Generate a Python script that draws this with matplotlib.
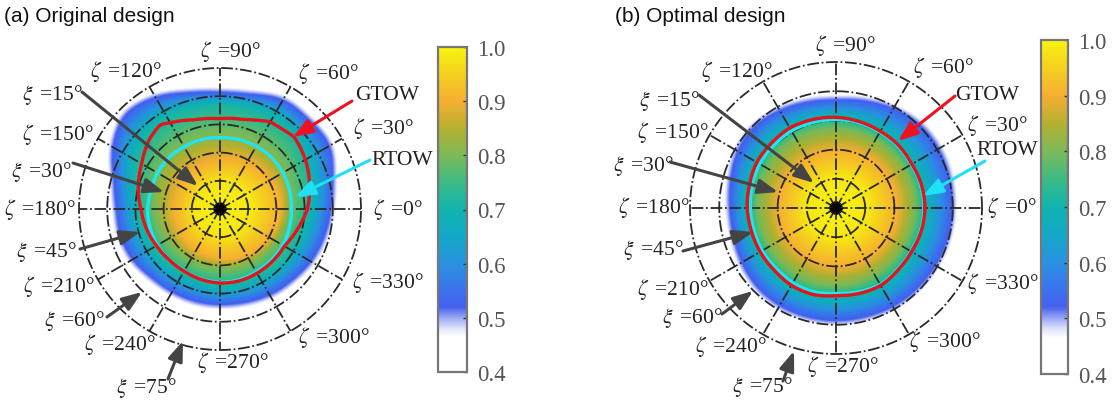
import matplotlib
matplotlib.use("Agg")
import matplotlib.pyplot as plt
import numpy as np
from matplotlib.colors import LinearSegmentedColormap

plt.rcParams['mathtext.fontset'] = 'stix'
plt.rcParams['font.family'] = 'Liberation Serif'

W, H = 1118, 402

# angle of every sample below (zeta, deg), radii are xi (deg)
zeta = np.arange(0, 360, 15)

# (a) original design
a_r09 = [33, 33, 32, 30, 29, 28, 27, 26, 26, 26, 25, 25, 25, 25, 25, 26, 26, 26, 27, 28, 29, 30, 31, 32]
a_r08 = [38, 39, 41, 42, 42, 42, 41, 41, 41, 40, 38, 36, 35, 34, 33, 32, 32, 32, 32, 33, 33, 34, 35, 36]
a_r07 = [49, 51, 54, 58, 58, 57, 56, 57, 58, 58, 54, 47, 44, 43, 42, 42, 41, 41, 42, 42, 43, 44, 45, 46]
a_edge = [62, 65, 71, 70, 70.6, 66, 65, 67, 72, 75, 69, 61, 58, 58, 57, 54.5, 54, 54, 54, 54.5, 56, 57, 59, 60.5]
a_gtow_zeta = [0, 15, 30, 44, 52, 60, 67.5, 75, 90, 105, 112.5, 120, 125, 135, 150, 165, 180, 195, 210, 225, 240, 255,
               270, 285, 300, 315, 330, 345]
a_gtow = [46.5, 49.4, 52.5, 55, 53.8, 53.5, 51, 49.2, 48, 49.2, 51, 53, 55, 52.8, 48, 45, 42, 40.5, 39, 38.2, 38.2,
          38.8, 39.4, 39.6, 39.4, 39.4, 39.5, 42.5]
a_rtow = [38, 38.3, 38.6, 38.8, 38.6, 38.3, 38, 38.2, 38.3, 38.5, 38.4, 38, 38.5, 38.5, 38.5, 38, 38, 38.5, 39, 39, 38.5, 38.5, 38.5, 38.2]

# (b) optimal design
b_r09 = [32, 32, 32, 32, 31, 31, 30, 30, 30, 30, 30, 30, 30, 30, 30, 30, 30, 30, 30, 31, 31, 31, 32, 32]
b_r08 = [41, 41, 41, 41, 41, 41, 41, 41, 42, 41, 41, 41, 40, 40, 40, 40, 40, 40, 40, 40, 40, 40, 40, 40]
b_r07 = [46.2, 46, 45.5, 46, 46, 46.5, 47, 47.5, 48, 47.5, 47.5, 46.5, 46, 45.5, 45.5, 45.5, 46.4, 46.5, 45.5, 46, 46.5, 45.5, 45.3, 45.9]
b_edge = [62.8, 63.5, 64, 64, 62, 60, 58.5, 59.5, 61, 62.5, 61.5, 59, 57.5, 57.5, 59, 60.5, 61, 61, 61, 61, 61.5, 61.8, 62, 62.5]
b_gtow = [45.7, 45.5, 45, 45.5, 45.5, 46, 46.6, 47, 47.5, 47, 47, 46, 45.6, 45, 45, 45, 45.9, 46, 45, 45.5, 46, 45, 44.8, 45.4]
b_rtow = [45.2, 45, 44.6, 45, 45, 45.4, 45.5, 45.5, 45.8, 45.3, 45.3, 44.5, 44, 43.6, 43.8, 43.6, 44.3, 44.6, 43.8, 44.6, 45.4, 44.6, 44.4, 45]

xi_rings = [15, 30, 45, 60, 75]
zeta_spokes = np.arange(0, 360, 30)

cbar_ticks = [0.4, 0.5, 0.6, 0.7, 0.8, 0.9, 1.0]
cmap_values = [0.4, 0.465, 0.48, 0.5, 0.52, 0.55, 0.6, 0.65, 0.7, 0.75, 0.8, 0.85, 0.9, 0.95, 1.0]
cmap_colors = ['#ffffff', '#ffffff', '#dfe4fb', '#98a6f4', '#4560ee', '#3a72ee', '#2a92e0', '#14a8c8', '#10b4b0',
               '#3cba84', '#7cba58', '#b4b030', '#f5ae32', '#f5d020', '#f8f410']

zeta_labels = [0, 30, 60, 90, 120, 150, 180, 210, 240, 270, 300, 330]
xi_labels = [15, 30, 45, 60, 75]

cmap = LinearSegmentedColormap.from_list(
    'tow', [((v - 0.4) / 0.6, c) for v, c in zip(cmap_values, cmap_colors)], N=512)

fig = plt.figure(figsize=(W / 100, H / 100), dpi=100)
over = fig.add_axes([0, 0, 1, 1], zorder=5)
over.set_xlim(0, W)
over.set_ylim(H, 0)
over.axis('off')

th = np.radians(np.arange(0, 360, 0.5))
th_closed = np.append(th, th[0])


def wrap(values, width, angles=zeta):
    # read values -> fine angle grid, circular smoothing over width (deg)
    r = np.interp(th, np.radians(np.append(angles, 360)), np.append(values, values[0]))
    n = int(width / 0.5)
    win = np.hanning(n + 2)[1:-1]
    win = win / win.sum()
    return np.convolve(np.concatenate([r, r, r]), win, mode='same')[len(r):2 * len(r)]


def panel(cx, cy, ring_px, r09, r08, r07, edge, g, rtow):
    # polar axes sized so 1 deg of xi matches the ring radius in pixels
    rmax = 80
    R = ring_px * rmax / 75
    ax = fig.add_axes([(cx - R) / W, (H - cy - R) / H, 2 * R / W, 2 * R / H], projection='polar')
    ax.set_ylim(0, rmax)
    ax.axis('off')

    rr = np.linspace(0, rmax, 321)
    l09, l08, l07, le = wrap(r09, 40), wrap(r08, 40), wrap(r07, 40), wrap(edge, 22)
    field = np.zeros((len(rr), len(th) + 1))
    for j in range(len(th)):
        knots = [0, 0.55 * l09[j], l09[j], l08[j], l07[j], le[j] - 3, le[j]]
        field[:, j] = np.interp(rr, knots, [1.0, 0.98, 0.9, 0.8, 0.7, 0.52, 0.46], right=0.4)
    field[:, -1] = field[:, 0]
    mesh = ax.pcolormesh(np.append(th, 2 * np.pi), rr, field, cmap=cmap, vmin=0.4, vmax=1.0, shading='gouraud')

    style = (0, (6.5, 1.5, 1, 1.5))
    t_line = np.linspace(0, 2 * np.pi, 361)
    for xi in xi_rings:
        ax.plot(t_line, np.full_like(t_line, xi), color='#2a2a2a', lw=1.3, ls=style)
    for z in zeta_spokes:
        ax.plot([np.radians(z)] * 2, [0, 75], color='#2a2a2a', lw=1.3, ls=style)
    for z in np.arange(0, 360, 15):
        ax.plot([np.radians(z)] * 2, [0, 3.2], color='black', lw=0.9)

    r = wrap(rtow, 14)
    ax.plot(th_closed, np.append(r, r[0]), color='#1fe6f2', lw=2.4)
    ax.plot(th_closed, np.append(g, g[0]), color='#e2141e', lw=2.4)
    return mesh


def colorbar(mesh, x0, x1, y0, y1):
    cax = fig.add_axes([x0 / W, (H - y1) / H, (x1 - x0) / W, (y1 - y0) / H])
    cb = fig.colorbar(mesh, cax=cax, ticks=cbar_ticks)
    cb.ax.set_yticklabels(['%.1f' % t for t in cbar_ticks], fontsize=16.5, color='#555555')
    cb.ax.tick_params(direction='in', length=3, width=1, color='#333333', pad=7)
    cb.outline.set_edgecolor('#777777')
    cb.outline.set_linewidth(1.6)


def arrow(p0, p1, color):
    over.annotate('', xy=p1, xytext=p0,
                  arrowprops=dict(arrowstyle='-|>,head_width=0.3,head_length=0.8', color=color, lw=2.2,
                                  mutation_scale=15, shrinkA=0, shrinkB=0))


def labels(zeta_pos, xi_pos, arrows, gtow_pos, rtow_pos, gtow_arrow, rtow_arrow):
    for z, (x, y) in zip(zeta_labels, zeta_pos):
        over.text(x, y, '$\\zeta\\,$ =%d°' % z, ha='center', va='center', fontsize=15.5, color='#222222')
    for xi, (x, y) in zip(xi_labels, xi_pos):
        over.text(x, y, '$\\xi\\,$ =%d°' % xi, ha='center', va='center', fontsize=15.5, color='#222222')
    for p0, p1 in arrows:
        arrow(p0, p1, '#444444')
    over.text(*gtow_pos, 'GTOW', ha='center', va='center', fontsize=15.5, color='#222222')
    over.text(*rtow_pos, 'RTOW', ha='center', va='center', fontsize=15.5, color='#222222')
    arrow(*gtow_arrow, '#f01020')
    arrow(*rtow_arrow, '#20e0f5')


mesh_a = panel(220, 210, 141, a_r09, a_r08, a_r07, a_edge, wrap(a_gtow, 5, a_gtow_zeta), a_rtow)
mesh_b = panel(836, 209, 146, b_r09, b_r08, b_r07, b_edge, wrap(b_gtow, 10), b_rtow)
colorbar(mesh_a, 438, 467, 48, 373)
colorbar(mesh_b, 1041, 1068, 41, 375)

over.text(4, 17, '(a) Original design', family='Liberation Sans', fontsize=15, va='center', color='#111111')
over.text(615, 17, '(b) Optimal design', family='Liberation Sans', fontsize=15, va='center', color='#111111')

labels([(398, 210), (383, 129), (328, 73), (230, 52), (126, 72), (58, 135),
        (40, 210), (59, 287), (120, 345), (233, 363), (334, 338), (388, 283)],
       [(52, 95), (41, 172), (46, 252), (74, 321), (146, 388)],
       [((82, 93), (198, 187)), ((73, 164), (164, 193)), ((80, 250), (140, 233)),
        ((107, 318), (142, 293)), ((168, 380), (183, 342))],
       (387, 95), (402, 161), ((352, 102), (293, 138)), ((370, 161), (295, 198)))

labels([(1012, 208), (997, 126), (943, 68), (845, 45), (737, 72), (673, 133),
        (654, 208), (673, 290), (731, 347), (843, 367), (945, 342), (1003, 284)],
       [(669, 101), (643, 166), (653, 250), (692, 318), (762, 387)],
       [((699, 96), (814, 184)), ((670, 163), (778, 193)), ((683, 252), (753, 233)),
        ((722, 315), (753, 292)), ((783, 382), (794, 352))],
       (987, 95), (1007, 151), ((955, 97), (898, 142)), ((985, 162), (923, 197)))

fig.savefig('out.png', dpi=100)
